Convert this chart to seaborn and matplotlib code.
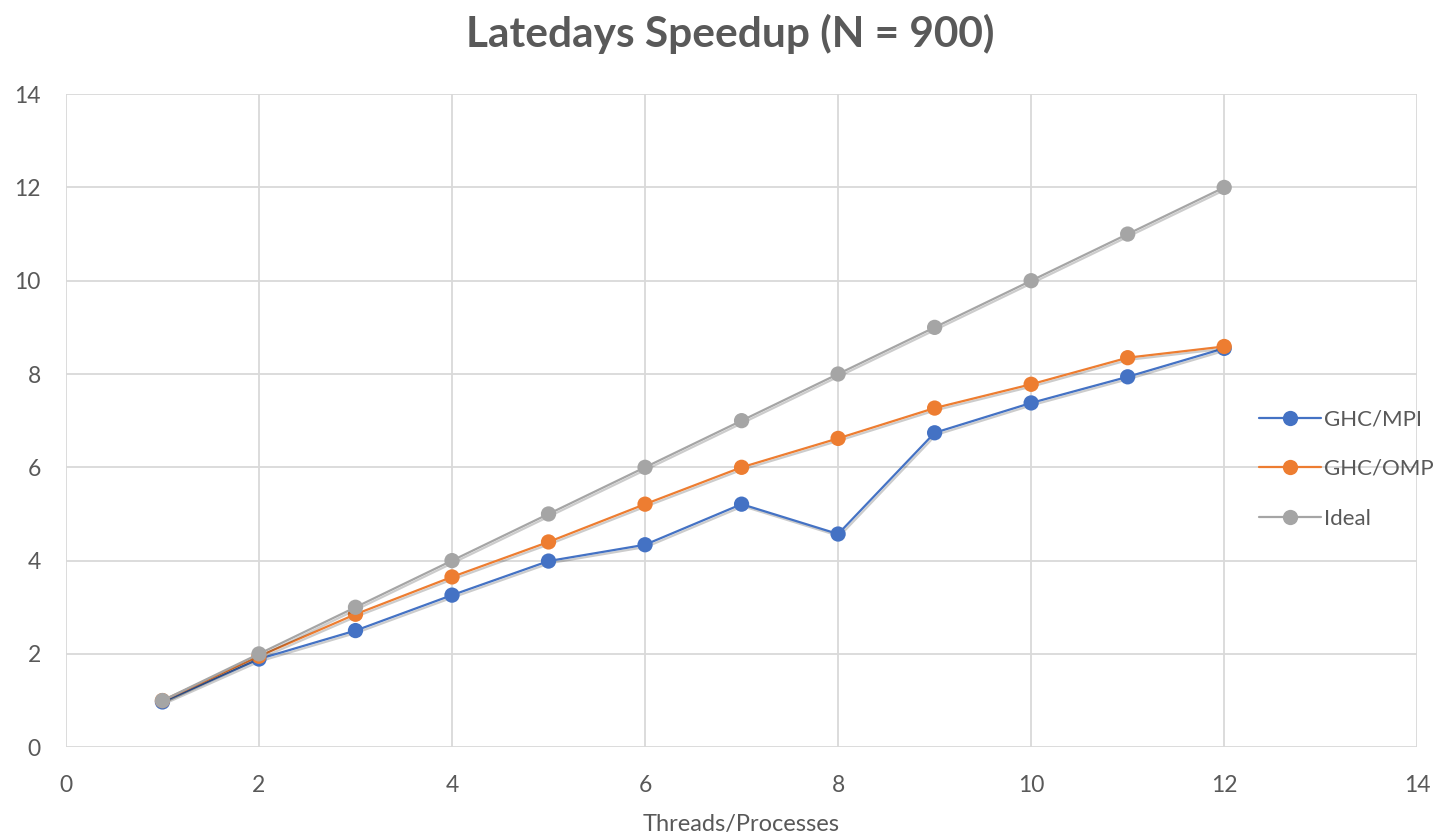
import numpy as np
import pandas as pd
import matplotlib
matplotlib.use("Agg")
import matplotlib.pyplot as plt
import matplotlib.patheffects as pe
import seaborn as sns

# Speedup measurements on latedays, N = 900
threads = [1, 2, 3, 4, 5, 6, 7, 8, 9, 10, 11, 12]
ghc_mpi = [0.97, 1.89, 2.50, 3.26, 3.99, 4.34, 5.21, 4.57, 6.74, 7.38, 7.94, 8.55]
ghc_omp = [1.00, 1.95, 2.85, 3.65, 4.40, 5.21, 6.00, 6.62, 7.27, 7.78, 8.35, 8.59]
ideal = [1, 2, 3, 4, 5, 6, 7, 8, 9, 10, 11, 12]
series_names = ["GHC/MPI", "GHC/OMP", "Ideal"]
colors = ["#4472C4", "#ED7D31", "#A5A5A5"]

df = pd.DataFrame({
    "Threads/Processes": threads * 3,
    "Speedup": ghc_mpi + ghc_omp + ideal,
    "Series": np.repeat(series_names, len(threads)),
})

sns.set_theme(style="white")
plt.rcParams["font.family"] = ["Lato", "DejaVu Sans"]

fig = plt.figure(figsize=(14.33, 8.33), dpi=100)
ax = fig.add_axes([0.046, 0.103, 0.943, 0.784])

sns.lineplot(
    data=df, x="Threads/Processes", y="Speedup", hue="Series",
    hue_order=series_names, palette=colors, marker="o", markersize=11,
    markeredgewidth=0, linewidth=1.6, ax=ax, legend=True,
)

ax.set_xlim(0, 14)
ax.set_ylim(0, 14)
ax.set_xticks(range(0, 15, 2))
ax.set_yticks(range(0, 15, 2))
ax.grid(True, color="#D9D9D9", linewidth=1.3)
ax.set_axisbelow(True)
for s in ax.spines.values():
    s.set_visible(False)
ax.tick_params(axis="both", length=0, labelsize=16.5, labelcolor="#595959")
ax.tick_params(axis="x", pad=20)
ax.tick_params(axis="y", pad=18)
ax.set_xlabel("Threads/Processes", fontsize=17, color="#595959", labelpad=13)
ax.set_ylabel("")

ax.set_title("Latedays Speedup (N = 900)", fontsize=30.5, fontweight="bold",
             color="#595959", pad=34, x=0.4915)

handles, labels = ax.get_legend_handles_labels()
leg = ax.legend(handles, labels, loc="center left", bbox_to_anchor=(0.868, 0.426),
                frameon=False, fontsize=16, handlelength=2.8, labelspacing=1.33,
                handletextpad=0.15)
for t in leg.get_texts():
    t.set_color("#595959")

# soft drop shadow under the plotted series (legend handles stay plain)
for line in ax.get_lines():
    line.set_path_effects([
        pe.SimpleLineShadow(offset=(1.0, -1.5), shadow_color="black", alpha=0.2),
        pe.Normal(),
    ])

fig.savefig("out.png", dpi=100)
